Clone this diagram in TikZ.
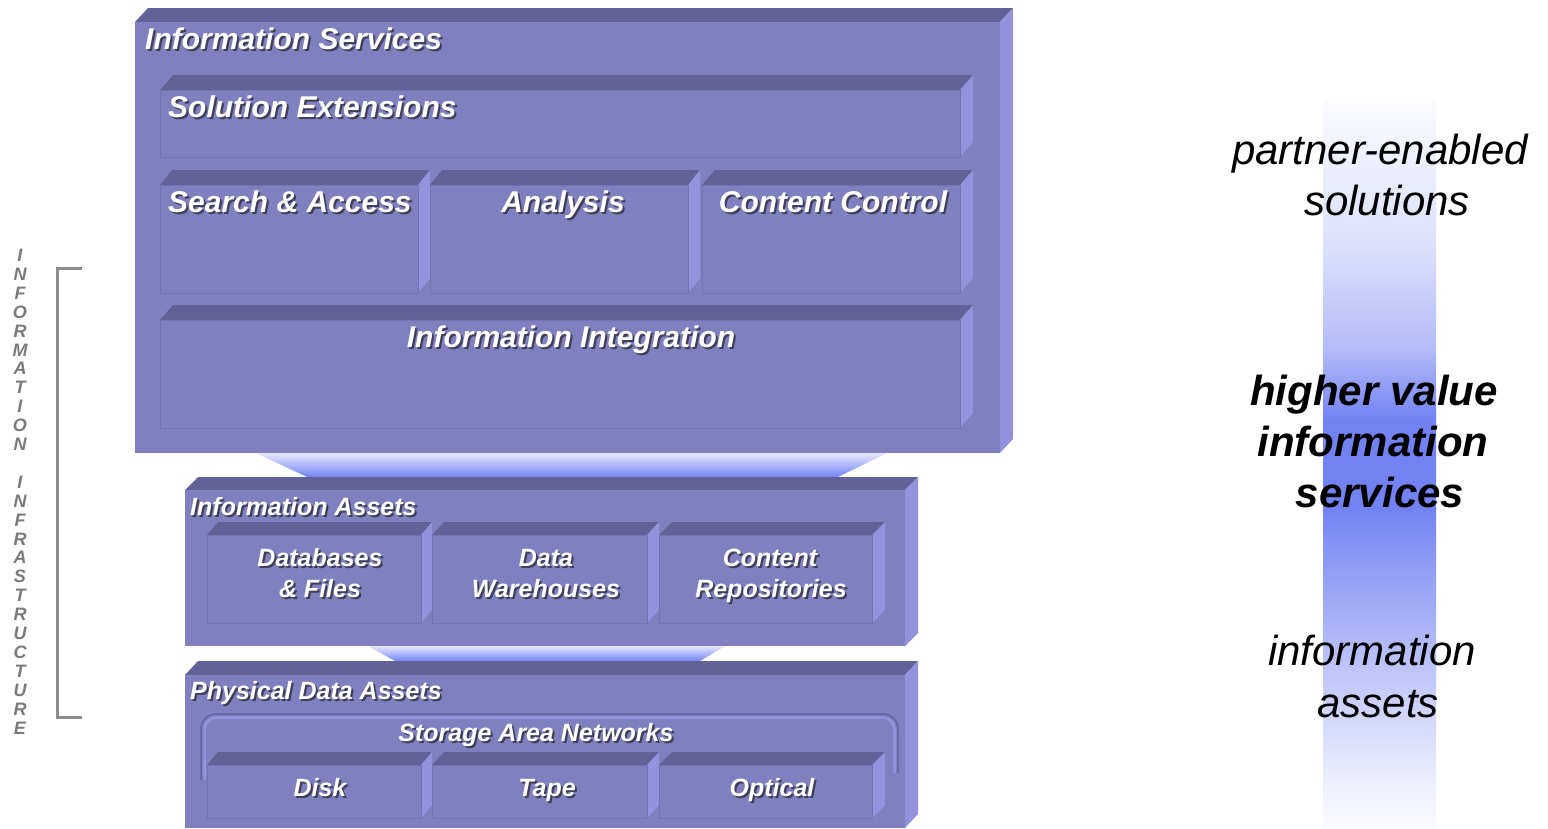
\documentclass[tikz,border=0pt]{standalone}
\usepackage{fontspec}
\newfontfamily\arialf{Liberation Sans}
\definecolor{frontc}{HTML}{8080C0}
\definecolor{topc}{HTML}{626298}
\definecolor{sidec}{HTML}{9393DD}
\definecolor{edgec}{HTML}{7373B0}
\definecolor{sanedge}{HTML}{6464A0}
\definecolor{shadowc}{HTML}{2A2A38}
\definecolor{vgray}{HTML}{7A7A7A}
\definecolor{brgray}{HTML}{8C8C8C}
\definecolor{trtop}{HTML}{E6E8FE}
\definecolor{trbot}{HTML}{7284F5}
\definecolor{barw}{HTML}{FBFBFF}
\definecolor{barA}{HTML}{EEF0FE}
\definecolor{barB}{HTML}{DCE0FC}
\definecolor{barC}{HTML}{B4BCF8}
\definecolor{barD}{HTML}{8A98F4}
\definecolor{barE}{HTML}{7282F3}
\pgfdeclareverticalshading{barshade}{100bp}{color(0bp)=(barw); color(25bp)=(barw); color(28bp)=(barA); color(37.4bp)=(barC); color(43.7bp)=(barD); color(47bp)=(barE); color(53bp)=(barE); color(58bp)=(barC); color(65bp)=(barB); color(71bp)=(barA); color(75bp)=(barw); color(100bp)=(barw)}
\newcommand{\isobox}[6]{%
  \fill[topc] (#1,#2) -- (#1+#5,#2-#6) -- (#3+#5,#2-#6) -- (#3,#2) -- cycle;
  \fill[sidec] (#3,#2) -- (#3+#5,#2-#6) -- (#3+#5,#4-#6) -- (#3,#4) -- cycle;
  \fill[frontc] (#1,#2) rectangle (#3,#4);}
\newcommand{\inbox}[6]{%
  \fill[topc] (#1,#2) -- (#1+#5,#2-#6) -- (#3+#5,#2-#6) -- (#3,#2) -- cycle;
  \fill[sidec] (#3,#2) -- (#3+#5,#2-#6) -- (#3+#5,#4-#6) -- (#3,#4) -- cycle;
  \filldraw[fill=frontc, draw=edgec, line width=1] (#1,#2) rectangle (#3,#4);}
\newcommand{\stext}[4]{%
  \node[#2, text=shadowc, opacity=0.75, xshift=2pt, yshift=-2pt] (#1-sh) at #3 {#4};
  \node[#2, text=white] (#1) at #3 {#4};}
\begin{document}
\begin{tikzpicture}[x=1pt,y=-1pt,
  big/.style={font=\arialf\bfseries\itshape\fontsize{30}{35}\selectfont, inner sep=0pt},
  small/.style={font=\arialf\bfseries\itshape\fontsize{25}{30}\selectfont, inner sep=0pt},
  rt/.style={font=\arialf\itshape\fontsize{42}{50}\selectfont, inner sep=0pt, anchor=base},
  rtb/.style={font=\arialf\bfseries\itshape\fontsize{42}{50}\selectfont, inner sep=0pt, anchor=base},
  vlab/.style={font=\arialf\bfseries\itshape\fontsize{18}{18.9}\selectfont, inner sep=0pt, text=vgray, align=center, anchor=north},
  trap/.style={top color=trtop, bottom color=trbot, draw=none}]
\useasboundingbox (0,0) rectangle (1548,828);
\fill[white] (0,0) rectangle (1548,828);

% gradient bar
\shade[shading=barshade] (1323,100) rectangle (1436,828);

% connectors
\path[trap] (256,453) -- (887,453) -- (838,477) -- (307,477) -- cycle;
\path[trap] (368,646) -- (725,646) -- (700,661) -- (395,661) -- cycle;

% Information Services
\isobox{135}{22}{1000}{453}{13}{14}
\inbox{160}{90}{960}{157}{13}{15}
\inbox{160}{185}{418}{293}{12}{15}
\inbox{430}{185}{688}{293}{12}{15}
\inbox{702}{185}{960}{293}{13}{15}
\inbox{160}{320}{960}{428}{13}{15}

% Information Assets
\isobox{185}{490}{905}{646}{13}{13}
\inbox{207}{535}{421}{623}{11}{13}
\inbox{432}{535}{647}{623}{12}{13}
\inbox{659}{535}{872}{623}{13}{13}

% Physical Data Assets
\isobox{185}{675}{905}{828}{13}{14}
\draw[sanedge, line width=1.5, rounded corners=15] (201,780) -- (201,714) -- (898,714) -- (898,773);
\draw[sidec, line width=2.5, rounded corners=12] (204.5,780) -- (204.5,717.5) -- (894.5,717.5) -- (894.5,773);
\inbox{207}{765}{421}{818}{11}{13}
\inbox{432}{765}{647}{818}{12}{13}
\inbox{659}{765}{872}{818}{13}{13}

% labels
\stext{is}{big, anchor=base west}{(145,49)}{Information Services}
\stext{se}{big, anchor=base west}{(168,117)}{Solution Extensions}
\stext{sa}{big, anchor=base west}{(168,212)}{Search \& Access}
\stext{an}{big, anchor=base}{(563,212)}{Analysis}
\stext{cc}{big, anchor=base}{(833,212)}{Content Control}
\stext{ii}{big, anchor=base}{(571,347)}{Information Integration}
\stext{ia}{small, anchor=base west}{(190,515)}{Information Assets}
\stext{db1}{small, anchor=base}{(320,566)}{Databases}
\stext{db2}{small, anchor=base}{(320,597)}{\& Files}
\stext{dw1}{small, anchor=base}{(546,566)}{Data}
\stext{dw2}{small, anchor=base}{(546,597)}{Warehouses}
\stext{cr1}{small, anchor=base}{(770,566)}{Content}
\stext{cr2}{small, anchor=base}{(771,597)}{Repositories}
\stext{pda}{small, anchor=base west}{(190,699)}{Physical Data Assets}
\stext{san}{small, anchor=base}{(536,741)}{Storage Area Networks}
\stext{dk}{small, anchor=base}{(320,796)}{Disk}
\stext{tp}{small, anchor=base}{(547,796)}{Tape}
\stext{op}{small, anchor=base}{(772,796)}{Optical}

% right-hand text
\node[rt] (pe1) at (1380,164) {partner-enabled};
\node[rt] (pe2) at (1387,215) {solutions};
\node[rtb] (hv1) at (1374,405) {higher value};
\node[rtb] (hv2) at (1373,456) {information};
\node[rtb] (hv3) at (1380,507) {services};
\node[rt] (ia1) at (1372,665) {information};
\node[rt] (ia2) at (1378,717) {assets};

% vertical label and bracket
\node[vlab] (infra) at (20,249) {I\\N\\F\\O\\R\\M\\A\\T\\I\\O\\N\\~\\I\\N\\F\\R\\A\\S\\T\\R\\U\\C\\T\\U\\R\\E};
\coordinate (bt) at (82,268);
\coordinate (bb) at (82,717);
\draw[brgray, line width=3] (bt) -- (57,268) -- (57,717) -- (bb);
\end{tikzpicture}
\end{document}
